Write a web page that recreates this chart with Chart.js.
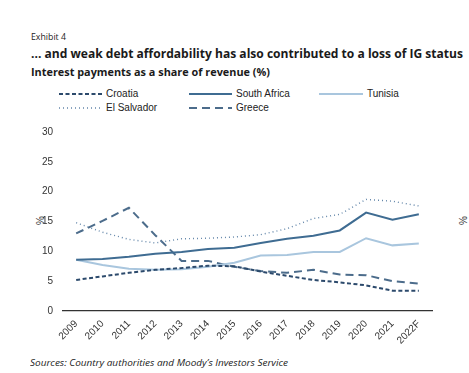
<!DOCTYPE html>
<html><head><meta charset="utf-8">
<script src="https://cdn.jsdelivr.net/npm/chart.js@4"></script>
<style>
html,body{margin:0;padding:0;background:#fff;width:469px;height:373px;overflow:hidden;position:relative;}
.t{position:absolute;white-space:nowrap;color:#1a1a1a;transform-origin:0 50%;}
#exh{left:31px;top:30px;font:9.5px "Open Sans",sans-serif;}
#ttl{left:31px;top:44px;font:bold 13px "Open Sans",sans-serif;}
#sub{left:31px;top:64px;font:bold 11px "Open Sans",sans-serif;}
#src{left:30px;top:356px;font:italic 9.5px "Open Sans",sans-serif;color:#222;}
.lg{position:absolute;font:10px "Liberation Sans",Arial,sans-serif;color:#222;white-space:nowrap;}
.ax{position:absolute;font:10px "Liberation Sans",Arial,sans-serif;color:#333;transform:rotate(-90deg);}
#wrap{position:absolute;left:0;top:116px;width:469px;height:240px;}
</style></head><body>
<div id="exh" class="t">Exhibit 4</div>
<div id="ttl" class="t">... and weak debt affordability has also contributed to a loss of IG status</div>
<div id="sub" class="t">Interest payments as a share of revenue (%)</div>
<div id="legend"></div>
<div class="ax" style="left:36px;top:215px;">%</div>
<div class="ax" style="left:459px;top:215px;">%</div>
<div id="wrap"><canvas id="c"></canvas></div>
<div id="src" class="t">Sources: Country authorities and Moody’s Investors Service</div>
<script>
const years = ['2009','2010','2011','2012','2013','2014','2015','2016','2017','2018','2019','2020','2021','2022F'];
const croatia     = [5.2, 5.8, 6.4, 6.9, 7.2, 7.6, 7.5, 6.6, 5.9, 5.2, 4.8, 4.3, 3.4, 3.4];
const southAfrica = [8.6, 8.7, 9.1, 9.6, 9.9, 10.4, 10.6, 11.4, 12.1, 12.6, 13.5, 16.5, 15.3, 16.2];
const tunisia     = [8.6, 7.7, 7.1, 6.9, 7.0, 7.4, 8.1, 9.3, 9.4, 9.9, 9.9, 12.2, 11.0, 11.3];
const elSalvador  = [14.8, 13.2, 12.0, 11.4, 12.1, 12.2, 12.4, 12.8, 13.8, 15.5, 16.2, 18.7, 18.4, 17.6];
const greece      = [13.0, 15.1, 17.3, 12.7, 8.4, 8.4, 7.4, 6.7, 6.4, 6.9, 6.1, 6.0, 5.0, 4.6];
const yTicks = [0, 5, 10, 15, 20, 25, 30];

const series = [
  {name:'Croatia', data:croatia, color:'#2c4a6c', dash:[4,2.5], w:2},
  {name:'South Africa', data:southAfrica, color:'#3f6c92', dash:[], w:2},
  {name:'Tunisia', data:tunisia, color:'#a9c6de', dash:[], w:2},
  {name:'El Salvador', data:elSalvador, color:'#6487aa', dash:[1,3], w:1.4},
  {name:'Greece', data:greece, color:'#4c6c8b', dash:[8,5], w:2}
];

// legend (HTML)
const legPos = [
  {x:59, y:94, len:43, tx:106},
  {x:189, y:94, len:43, tx:236},
  {x:319, y:94, len:44, tx:367},
  {x:59, y:108, len:42, tx:106},
  {x:189, y:108, len:43, tx:236}
];
const lg = document.getElementById('legend');
series.forEach((s,i)=>{
  const p = legPos[i];
  const svg = document.createElementNS('http://www.w3.org/2000/svg','svg');
  svg.setAttribute('width', p.len); svg.setAttribute('height', 6);
  svg.style.position='absolute'; svg.style.left=p.x+'px'; svg.style.top=(p.y-3)+'px';
  const ln = document.createElementNS('http://www.w3.org/2000/svg','line');
  ln.setAttribute('x1',0); ln.setAttribute('x2',p.len); ln.setAttribute('y1',3); ln.setAttribute('y2',3);
  ln.setAttribute('stroke', s.color); ln.setAttribute('stroke-width', s.w);
  if (s.dash.length) ln.setAttribute('stroke-dasharray', s.dash.join(' '));
  svg.appendChild(ln); lg.appendChild(svg);
  const t = document.createElement('div'); t.className='lg'; t.textContent=s.name;
  t.style.left=p.tx+'px'; t.style.top=(p.y-6)+'px'; lg.appendChild(t);
});

// fit header text widths
function fit(id, w){ const el=document.getElementById(id); const r=el.getBoundingClientRect().width; el.style.transform='scaleX('+(w/r)+')'; }
fit('exh',35); fit('ttl',432); fit('sub',239); fit('src',258);

new Chart(document.getElementById('c'), {
  type:'line',
  data:{
    labels: years,
    datasets: series.map(s=>({
      label:s.name, data:s.data, borderColor:s.color, backgroundColor:s.color,
      borderWidth:s.w, borderDash:s.dash, pointRadius:0, tension:0, fill:false
    }))
  },
  options:{
    responsive:true, maintainAspectRatio:false, animation:false,
    layout:{padding:{top:5,right:37,left:0,bottom:0}},
    plugins:{legend:{display:false}, tooltip:{enabled:false}},
    scales:{
      x:{
        offset:true,
        grid:{display:false, drawTicks:false},
        border:{display:true, color:'#333', width:1.2},
        ticks:{color:'#333', font:{family:'"Liberation Sans", Arial', size:10}, minRotation:45, maxRotation:45, padding:7, autoSkip:false},
        afterFit:(s)=>{ s.height = 45; }
      },
      y:{
        min:0, max:30,
        afterBuildTicks:(s)=>{ s.ticks = yTicks.map(v=>({value:v})); },
        grid:{display:false, drawTicks:false},
        border:{display:false},
        ticks:{color:'#333', font:{family:'"Liberation Sans", Arial', size:10}, padding:10},
        afterFit:(s)=>{ s.width = 63; }
      }
    }
  }
});
</script>
</body></html>
